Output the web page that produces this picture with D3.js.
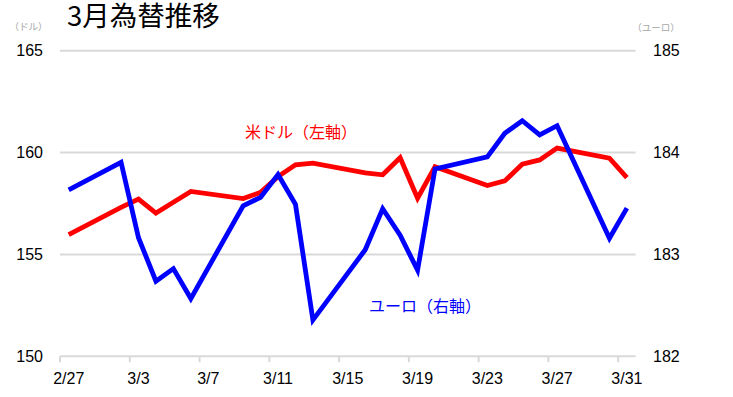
<!DOCTYPE html>
<html><head><meta charset="utf-8">
<script src="https://cdn.jsdelivr.net/npm/d3@7/dist/d3.min.js"></script>
<style>
html,body{margin:0;padding:0;background:#fff;}
svg{display:block;}
</style></head>
<body><svg id="c" width="733" height="397"></svg>
<script>
// All calendar categories on the axis
const categories = ["2/27","2/28","3/1","3/2","3/3","3/4","3/5","3/6","3/7","3/8","3/9","3/10","3/11","3/12","3/13","3/14","3/15","3/16","3/17","3/18","3/19","3/20","3/21","3/22","3/23","3/24","3/25","3/26","3/27","3/28","3/29","3/30","3/31"];
// Trading days with data
const tradeDates = ["2/27","3/2","3/3","3/4","3/5","3/6","3/9","3/10","3/11","3/12","3/13","3/16","3/17","3/18","3/19","3/20","3/23","3/24","3/25","3/26","3/27","3/30","3/31"];
const usdValues = [155.97,157.31,157.72,157.03,157.56,158.09,157.74,158.05,158.82,159.40,159.48,159.00,158.91,159.75,157.76,159.31,158.38,158.61,159.43,159.64,160.22,159.73,158.77];
const eurValues = [183.634,183.905,183.164,182.737,182.860,182.566,183.477,183.561,183.785,183.492,182.355,183.046,183.448,183.188,182.845,183.840,183.958,184.19,184.313,184.174,184.264,183.159,183.455];
const xTickLabels = ["2/27","3/3","3/7","3/11","3/15","3/19","3/23","3/27","3/31"];
const leftTicks = [150,155,160,165];
const rightTicks = [182,183,184,185];

const svg = d3.select("#c");
const numFont = "'Liberation Sans', Arial, sans-serif";
const jpFont = "'Noto Sans CJK JP', 'Noto Sans', sans-serif";

const x = d3.scaleBand().domain(categories).range([60, 635.6]).padding(0);
const yL = d3.scaleLinear().domain([150,165]).range([356.2, 50.8]);
const yR = d3.scaleLinear().domain([182,185]).range([356.2, 50.8]);
const cx = d => x(d) + x.bandwidth()/2;

// gridlines
svg.append("g").selectAll("line").data(leftTicks.slice(1)).join("line")
  .attr("x1", 60).attr("x2", 635.6)
  .attr("y1", d => yL(d)).attr("y2", d => yL(d))
  .attr("stroke", "#d9d9d9").attr("stroke-width", 2);

// x axis line
svg.append("line").attr("x1", 60).attr("x2", 635.6)
  .attr("y1", yL(150)).attr("y2", yL(150))
  .attr("stroke", "#d9d9d9").attr("stroke-width", 2);

// x ticks
svg.append("g").selectAll("line").data(xTickLabels).join("line")
  .attr("x1", d => x(d)).attr("x2", d => x(d))
  .attr("y1", yL(150)).attr("y2", yL(150) + 6)
  .attr("stroke", "#d9d9d9").attr("stroke-width", 2);

svg.append("g").selectAll("text").data(xTickLabels).join("text")
  .attr("x", d => cx(d)).attr("y", 384)
  .attr("text-anchor", "middle")
  .attr("font-family", numFont).attr("font-size", 16).attr("fill", "#000")
  .text(d => d);

// left axis labels
svg.append("g").selectAll("text").data(leftTicks).join("text")
  .attr("x", 43).attr("y", d => yL(d)).attr("dy", "0.35em")
  .attr("text-anchor", "end")
  .attr("font-family", numFont).attr("font-size", 16).attr("fill", "#000")
  .text(d => d);

// right axis labels
svg.append("g").selectAll("text").data(rightTicks).join("text")
  .attr("x", 653).attr("y", d => yR(d)).attr("dy", "0.35em")
  .attr("text-anchor", "start")
  .attr("font-family", numFont).attr("font-size", 16).attr("fill", "#000")
  .text(d => d);

// unit labels
svg.append("text").attr("x", 28.5).attr("y", 27).attr("dy", "0.35em")
  .attr("text-anchor", "middle").attr("font-family", jpFont).attr("font-size", 9.5)
  .attr("fill", "#a6a6a6").text("（ドル）");
svg.append("text").attr("x", 656).attr("y", 27.5).attr("dy", "0.35em")
  .attr("text-anchor", "middle").attr("font-family", jpFont).attr("font-size", 9.5)
  .attr("fill", "#a6a6a6").text("（ユーロ）");

// title
svg.append("text").attr("x", 67).attr("y", 16).attr("dy", "0.35em")
  .attr("font-family", jpFont).attr("font-size", 27.5).attr("fill", "#000")
  .text("3月為替推移");

// lines
const usd = tradeDates.map((d,i) => ({d, v: usdValues[i]}));
const eur = tradeDates.map((d,i) => ({d, v: eurValues[i]}));

svg.append("path").datum(usd)
  .attr("d", d3.line().x(p => cx(p.d)).y(p => yL(p.v)))
  .attr("fill", "none").attr("stroke", "#ff0000").attr("stroke-width", 4.8)
  .attr("stroke-linejoin", "miter");

svg.append("path").datum(eur)
  .attr("d", d3.line().x(p => cx(p.d)).y(p => yR(p.v)))
  .attr("fill", "none").attr("stroke", "#0000ff").attr("stroke-width", 4.8)
  .attr("stroke-linejoin", "miter");

// series labels
svg.append("text").attr("x", 245).attr("y", 132.5).attr("dy", "0.35em")
  .attr("font-family", jpFont).attr("font-size", 16).attr("fill", "#ff0000")
  .text("米ドル（左軸）");
svg.append("text").attr("x", 369).attr("y", 306.5).attr("dy", "0.35em")
  .attr("font-family", jpFont).attr("font-size", 16).attr("fill", "#0000ff")
  .text("ユーロ（右軸）");
</script>
</body></html>
